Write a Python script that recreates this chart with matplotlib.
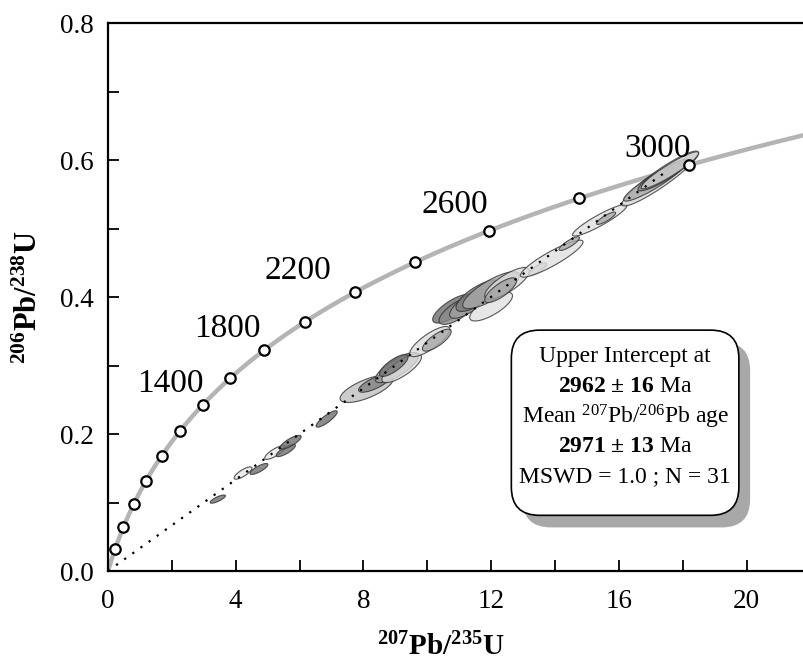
import numpy as np
import matplotlib.pyplot as plt
from matplotlib.patches import Polygon, FancyBboxPatch

plt.rcParams['font.family'] = ['Liberation Serif', 'DejaVu Serif']
plt.rcParams['mathtext.fontset'] = 'custom'
plt.rcParams['mathtext.rm'] = 'Liberation Serif'
plt.rcParams['mathtext.bf'] = 'Liberation Serif:bold'
plt.rcParams['mathtext.it'] = 'Liberation Serif:italic'

# decay constants (1/yr) that define the concordia curve
lam238 = 1.55125e-10
lam235 = 9.8485e-10

# concordia age markers (Ma) and labelled ages
marker_ages = [200, 400, 600, 800, 1000, 1200, 1400, 1600, 1800, 2000,
               2200, 2400, 2600, 2800, 3000]
label_ages = [1400, 1800, 2200, 2600, 3000]
label_x = [1.95, 3.75, 5.95, 10.85, 17.2]
label_y = [0.274, 0.354, 0.439, 0.534, 0.617]

# discordia: lower and upper intercepts (Ma)
lower_int = 0
upper_int = 2962

# error ellipses: centre x, centre y, x half-width, y half-height, rho, shade
ell_x = [3.44, 4.23, 4.73, 5.23, 5.57, 5.72, 6.85, 8.10, 8.35, 9.05,
         9.20, 8.95, 10.08, 10.30, 10.80, 10.95, 11.30, 11.60, 12.00, 12.00,
         12.50, 12.30, 13.46, 13.90, 14.45, 15.40, 15.60, 17.30, 17.10, 17.40,
         17.60]
ell_y = [0.105, 0.143, 0.149, 0.173, 0.176, 0.188, 0.222, 0.266, 0.274, 0.297,
         0.296, 0.300, 0.335, 0.337, 0.383, 0.380, 0.390, 0.402, 0.386, 0.410,
         0.420, 0.410, 0.441, 0.456, 0.478, 0.512, 0.515, 0.573, 0.568, 0.578,
         0.585]
ell_sx = [0.24, 0.28, 0.28, 0.32, 0.30, 0.33, 0.33, 0.83, 0.50, 0.68,
          0.62, 0.45, 0.63, 0.45, 0.63, 0.58, 0.60, 0.70, 0.67, 0.89,
          0.70, 0.50, 0.28, 0.98, 0.32, 0.85, 0.30, 1.20, 0.95, 0.80,
          0.90]
ell_sy = [0.006, 0.009, 0.008, 0.010, 0.009, 0.010, 0.012, 0.020, 0.013, 0.022,
          0.021, 0.016, 0.022, 0.016, 0.021, 0.020, 0.021, 0.023, 0.021, 0.027,
          0.023, 0.018, 0.009, 0.027, 0.010, 0.023, 0.009, 0.040, 0.028, 0.023,
          0.027]
ell_rho = [0.80, 0.80, 0.80, 0.80, 0.80, 0.80, 0.85, 0.70, 0.75, 0.78,
           0.78, 0.78, 0.80, 0.78, 0.75, 0.72, 0.75, 0.75, 0.75, 0.80,
           0.78, 0.78, 0.80, 0.90, 0.85, 0.92, 0.85, 0.93, 0.92, 0.90,
           0.93]
ell_shade = ['#707070', '#e8e8e8', '#707070', '#e8e8e8', '#707070', '#707070',
             '#707070', '#c0c0c0', '#808080', '#a0a0a0', '#dcdcdc', '#707070',
             '#dcdcdc', '#a8a8a8', '#707070', '#8a8a8a', '#a0a0a0', '#7a7a7a',
             '#e0e0e0', '#a8a8a8', '#dcdcdc', '#a0a0a0', '#b8b8b8', '#e0e0e0',
             '#a8a8a8', '#e0e0e0', '#a8a8a8', '#d8d8d8', '#a8a8a8', '#808080',
             '#d0d0d0']

box_lines = ['Upper Intercept at',
             r'$\mathbf{2962\ ±\ 16}$ Ma',
             r'Mean $^{207}$Pb/$^{206}$Pb age',
             r'$\mathbf{2971\ ±\ 13}$ Ma',
             'MSWD = 1.0 ; N = 31']


def concordia(t_ma):
    t = np.asarray(t_ma) * 1e6
    return np.exp(lam235 * t) - 1, np.exp(lam238 * t) - 1


fig = plt.figure(figsize=(8.04, 6.71), dpi=100)
ax = fig.add_axes([0.1343, 0.149, 0.8657, 0.8167])

# concordia curve
t_curve = np.linspace(0, 3200, 400)
cx, cy = concordia(t_curve)
ax.plot(cx, cy, color='#b4b4b4', lw=3.2, zorder=2, solid_capstyle='round')
mx, my = concordia(marker_ages)
ax.plot(mx, my, 'o', ms=7.5, mfc='white', mec='black', mew=1.6, zorder=6)

for a, lx, ly in zip(label_ages, label_x, label_y):
    ax.text(lx, ly, str(a), fontsize=24, ha='center', va='center', zorder=7)

# discordia
dx, dy = concordia([lower_int, upper_int])
ax.plot(dx, dy, color='black', lw=1.6, ls=(0, (1, 3.5)), zorder=5)

# error ellipses
th = np.linspace(0, 2 * np.pi, 120)
for x, y, sx, sy, r, c in zip(ell_x, ell_y, ell_sx, ell_sy, ell_rho, ell_shade):
    cov = np.array([[sx * sx, r * sx * sy], [r * sx * sy, sy * sy]])
    L = np.linalg.cholesky(cov)
    pts = (L @ np.vstack([np.cos(th), np.sin(th)])).T + [x, y]
    ax.add_patch(Polygon(pts, closed=True, fc=c, ec='#303030', lw=0.8,
                         alpha=0.8, zorder=4))

ax.set_xlim(0, 21.8)
ax.set_ylim(0, 0.8)
ax.set_xticks(np.arange(0, 21, 2))
ax.set_xticklabels([str(v) if v % 4 == 0 else '' for v in range(0, 21, 2)])
ax.set_yticks(np.arange(0, 0.81, 0.1))
ax.set_yticklabels(['%.1f' % v if i % 2 == 0 else '' for i, v in
                    enumerate(np.arange(0, 0.81, 0.1))])
ax.tick_params(direction='in', length=8, width=1.3, labelsize=19.5, pad=13)
ax.tick_params(axis='y', pad=10)
for s in ['left', 'bottom', 'top']:
    ax.spines[s].set_linewidth(1.6)
ax.spines['right'].set_visible(False)

ax.set_xlabel(r'$\mathbf{^{207}Pb/^{235}U}$', fontsize=21)
ax.xaxis.set_label_coords(0.478, -0.112)
ax.set_ylabel(r'$\mathbf{^{206}Pb/^{238}U}$', fontsize=22, labelpad=12)

# results box with drop shadow
bx, by, bw, bh = 0.636, 0.232, 0.283, 0.276
shadow = FancyBboxPatch((bx + 0.014, by - 0.018), bw, bh,
                        boxstyle='round,pad=0,rounding_size=0.035',
                        transform=fig.transFigure, fc='#a8a8a8', ec='none',
                        zorder=8, mutation_aspect=804 / 671)
box = FancyBboxPatch((bx, by), bw, bh,
                     boxstyle='round,pad=0,rounding_size=0.035',
                     transform=fig.transFigure, fc='white', ec='black', lw=1.2,
                     zorder=9, mutation_aspect=804 / 671)
fig.patches.extend([shadow, box])
for i, line in enumerate(box_lines):
    fig.text(bx + bw / 2, by + bh - 0.04 - i * 0.0445, line, fontsize=17,
             ha='center', va='center', zorder=10)

fig.savefig('out.png', dpi=100)
